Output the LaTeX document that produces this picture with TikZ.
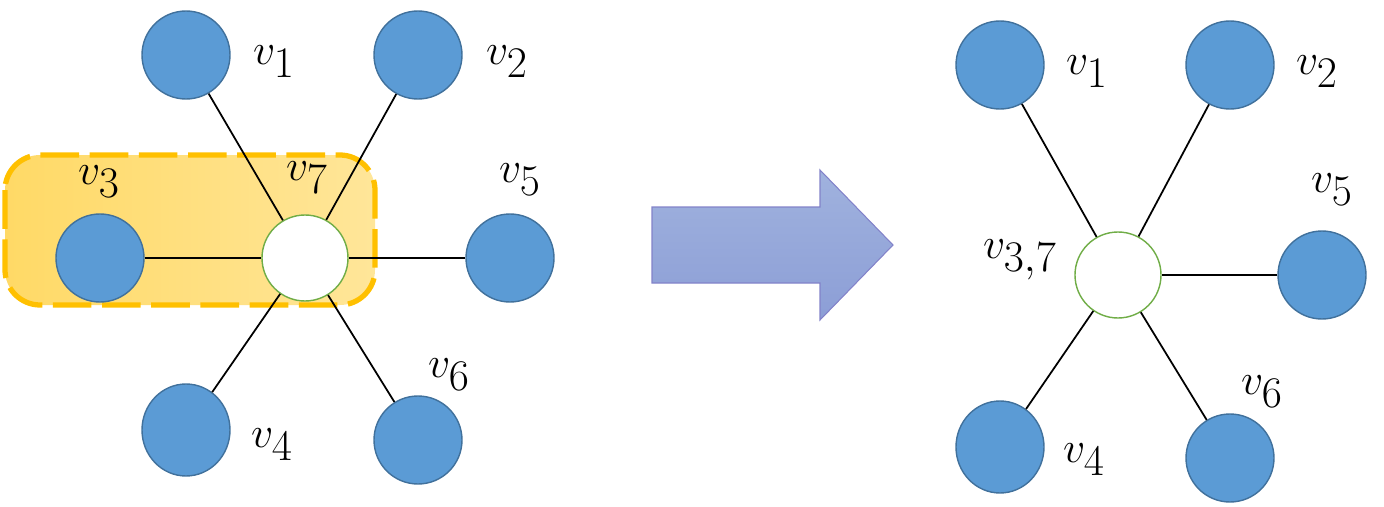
\documentclass[tikz,border=0pt]{standalone}
\usetikzlibrary{shapes.geometric}
\definecolor{bfill}{HTML}{5B9BD5}
\definecolor{bdraw}{HTML}{41719C}
\definecolor{gdraw}{HTML}{70AD47}
\definecolor{orng}{HTML}{FFC000}
\begin{document}
\begin{tikzpicture}[x=0.02cm,y=-0.02cm,
  bn/.style={ellipse,minimum width=88*0.02cm,minimum height=88*0.02cm,fill=bfill,draw=bdraw,line width=0.8pt,inner sep=0},
  wn/.style={circle,minimum size=86*0.02cm,fill=white,draw=gdraw,line width=0.8pt,inner sep=0},
  lb/.style={font=\fontsize{42}{46}\selectfont,inner sep=0},
  ed/.style={line width=1pt}]
\useasboundingbox (0,0) rectangle (1384,507);
\draw[rounded corners=20, dashed, dash pattern=on 22pt off 6pt, line width=3pt, draw=orng, left color=orng!60, right color=orng!40] (5,155) rectangle (375,305);
\node[bn] (a1) at (186,55) {};
\node[bn] (a2) at (418,55) {};
\node[bn] (a3) at (100,258) {};
\node[wn] (a7) at (305,258) {};
\node[bn] (a5) at (510,258) {};
\node[bn,minimum height=92*0.02cm] (a4) at (186,430) {};
\node[bn] (a6) at (418,440) {};
\foreach \n in {a1,a2,a3,a5,a4,a6} \draw[ed] (\n) -- (a7);
\node[lb] (l1) at (274,62) {$v_1$};
\node[lb] (l2) at (507,62) {$v_2$};
\node[lb] (l3) at (99,182) {$v_3$};
\node[lb] (l7) at (307,178) {$v_7$};
\node[lb] (l5) at (520,180) {$v_5$};
\node[lb] (l4) at (272,445) {$v_4$};
\node[lb] (l6) at (449,375) {$v_6$};
\draw[draw=blue!40!gray!70, line width=0.6pt, top color={rgb,255:red,160;green,178;blue,222}, bottom color={rgb,255:red,140;green,158;blue,214}]
 (652,207) -- (820,207) -- (820,170) -- (893,245) -- (820,320) -- (820,283) -- (652,283) -- cycle;
\node[bn] (b1) at (1000,65) {};
\node[bn] (b2) at (1230,65) {};
\node[wn] (b7) at (1118,275) {};
\node[bn] (b5) at (1322,275) {};
\node[bn,minimum height=92*0.02cm] (b4) at (1000,447) {};
\node[bn] (b6) at (1230,458) {};
\foreach \n in {b1,b2,b5,b4,b6} \draw[ed] (\n) -- (b7);
\node[lb] (m1) at (1087,72) {$v_1$};
\node[lb] (m2) at (1317,72) {$v_2$};
\node[lb] (m5) at (1332,190) {$v_5$};
\node[lb] (m37) at (1020,260) {$v_{3,7}$};
\node[lb] (m4) at (1084,460) {$v_4$};
\node[lb] (m6) at (1262,392) {$v_6$};
\end{tikzpicture}
\end{document}
